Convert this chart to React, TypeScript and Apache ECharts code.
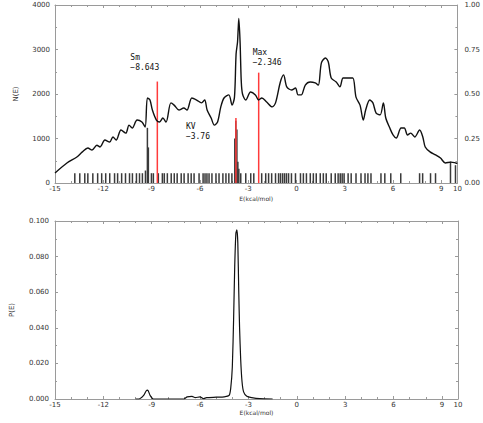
import React, { useEffect, useRef } from "react";
import * as echarts from "echarts";

// Top panel: smoothed energy-count curve (left axis)
const curveX = [-15, -14.26, -13.64, -13.3, -12.96, -12.7, -12.4, -12.2, -11.9, -11.6, -11.4, -11.2, -10.9, -10.6, -10.4, -10.2, -9.9, -9.6, -9.4, -9.26, -9.1, -8.95, -8.7, -8.5, -8.3, -8.1, -7.8, -7.6, -7.3, -7.0, -6.8, -6.5, -6.2, -5.9, -5.7, -5.55, -5.3, -5.1, -4.9, -4.7, -4.5, -4.2, -4.0, -3.85, -3.75, -3.66, -3.58, -3.5, -3.43, -3.35, -3.15, -2.85, -2.55, -2.35, -2.15, -1.85, -1.5, -1.3, -1.0, -0.8, -0.6, -0.3, -0.06, 0.1, 0.3, 0.55, 0.85, 1.17, 1.36, 1.55, 1.8, 1.98, 2.16, 2.47, 2.7, 2.9, 3.2, 3.5, 3.7, 3.95, 4.15, 4.3, 4.55, 4.75, 4.95, 5.2, 5.4, 5.55, 5.8, 6.0, 6.2, 6.5, 6.7, 6.9, 7.1, 7.35, 7.65, 7.85, 8.0, 8.3, 8.65, 8.95, 9.25, 9.6, 9.9, 10];
const curveY = [225, 450, 585, 700, 785, 740, 850, 810, 965, 920, 1035, 965, 1190, 1120, 1300, 1235, 1415, 1370, 1260, 1910, 1865, 1640, 1415, 1370, 1460, 1370, 1800, 1750, 1640, 1685, 1640, 1910, 1865, 1800, 1865, 1640, 1460, 1300, 1370, 1710, 1910, 1980, 1750, 1930, 2900, 3170, 3700, 3150, 2300, 2000, 1865, 2045, 1980, 1865, 1910, 1820, 1710, 1800, 2270, 2430, 2160, 2090, 2135, 1980, 1980, 2200, 2270, 2250, 2200, 2700, 2810, 2720, 2360, 2270, 2160, 2360, 2360, 2360, 1930, 1750, 1415, 1640, 1865, 1800, 1570, 1530, 1800, 1460, 1235, 1080, 1010, 1235, 1235, 1080, 1120, 1035, 1190, 1035, 810, 700, 630, 560, 450, 470, 450, 440];

// Top panel: rug sticks (right axis)
const rugX = [-13.77, -13.46, -13.15, -12.96, -12.65, -12.35, -12.1, -11.85, -11.6, -11.3, -11.11, -10.86, -10.62, -10.37, -10.19, -9.94, -9.75, -9.57, -9.38, -9.26, -9.2, -9.01, -8.89, -8.58, -8.33, -8.21, -8.02, -7.78, -7.59, -7.41, -7.16, -6.98, -6.73, -6.54, -6.36, -6.05, -5.8, -5.68, -5.56, -5.43, -5.25, -5.0, -4.81, -4.57, -4.38, -4.2, -4.01, -3.83, -3.77, -3.7, -3.64, -3.58, -3.46, -3.15, -2.84, -2.65, -2.16, -1.91, -1.73, -1.54, -1.3, -1.11, -0.99, -0.86, -0.74, -0.62, -0.49, -0.31, -0.06, 0.25, 0.43, 0.62, 0.86, 1.05, 1.23, 1.48, 1.67, 1.85, 2.16, 2.41, 2.59, 2.72, 2.84, 2.96, 3.21, 3.4, 3.7, 4.01, 4.26, 4.44, 4.63, 5.25, 5.49, 5.86, 6.48, 7.65, 7.84, 8.33, 8.64, 9.57, 9.88];
const rugH = [0.055, 0.055, 0.055, 0.055, 0.055, 0.055, 0.055, 0.055, 0.055, 0.055, 0.055, 0.055, 0.055, 0.055, 0.055, 0.055, 0.055, 0.055, 0.07, 0.31, 0.2, 0.055, 0.055, 0.055, 0.055, 0.055, 0.055, 0.055, 0.055, 0.055, 0.055, 0.055, 0.055, 0.055, 0.055, 0.055, 0.055, 0.055, 0.055, 0.055, 0.055, 0.055, 0.055, 0.055, 0.055, 0.055, 0.055, 0.25, 0.35, 0.3, 0.12, 0.08, 0.055, 0.055, 0.055, 0.055, 0.055, 0.055, 0.055, 0.055, 0.055, 0.055, 0.055, 0.055, 0.055, 0.055, 0.055, 0.055, 0.055, 0.055, 0.055, 0.055, 0.055, 0.055, 0.055, 0.055, 0.055, 0.055, 0.055, 0.055, 0.055, 0.055, 0.055, 0.055, 0.055, 0.055, 0.055, 0.055, 0.055, 0.055, 0.055, 0.055, 0.055, 0.055, 0.055, 0.055, 0.055, 0.055, 0.055, 0.12, 0.1];

// Top panel: marker lines
const markerNames = ["Sm", "KV", "Max"];
const markerX = [-8.643, -3.76, -2.346];
const markerH = [0.57, 0.365, 0.62];

// Bottom panel: probability curve
const probX = [-10, -9.8, -9.5, -9.35, -9.25, -9.1, -8.9, -7.0, -6.8, -6.5, -6.3, -6.0, -5.8, -5.6, -5.0, -4.5, -4.2, -4.1, -4.0, -3.92, -3.85, -3.78, -3.72, -3.66, -3.6, -3.55, -3.48, -3.4, -3.3, -3.1, -2.8, -2.3, -1.5];
const probY = [0, 0, 0.002, 0.0045, 0.005, 0.002, 0, 0, 0.0012, 0.0015, 0.0008, 0.0012, 0.0002, 0.0008, 0.001, 0.0012, 0.002, 0.006, 0.018, 0.045, 0.075, 0.093, 0.095, 0.088, 0.06, 0.04, 0.022, 0.01, 0.004, 0.0015, 0.0008, 0.0002, 0];

const xMin = -15;
const xMax = 10;
const xStep = 3;

export default function App() {
  const ref = useRef<HTMLDivElement>(null);

  useEffect(() => {
    document.body.style.margin = "0";
    const chart = echarts.init(ref.current!, null, { renderer: "svg" });

    const axisColor = "#9a9a9a";
    const labelStyle = { fontSize: 7, color: "#333", fontFamily: "DejaVu Sans" };
    const tickCfg = { show: true, inside: true, length: 3, lineStyle: { color: axisColor } };
    const minorCfg = (n: number) => ({ show: true, splitNumber: n, length: 2, lineStyle: { color: axisColor } });
    const lineCfg = { show: true, onZero: false, lineStyle: { color: axisColor, width: 1 } };

    const baseX = (gridIndex: number, position: "top" | "bottom", showLabel: boolean, name: string, nameGap: number) => ({
      type: "value",
      gridIndex,
      position,
      min: xMin,
      max: xMax,
      interval: xStep,
      axisLine: lineCfg,
      axisTick: tickCfg,
      minorTick: minorCfg(3),
      splitLine: { show: false },
      axisLabel: { show: showLabel, margin: 2, ...labelStyle },
      name,
      nameLocation: "middle",
      nameGap,
      nameTextStyle: { fontSize: 6, color: "#333", fontFamily: "DejaVu Sans" },
    });

    const labelOffsets: Record<string, number[]> = {
      Sm: [-27, -9],
      KV: [-50, 23],
      Max: [-6, -5],
    };

    chart.setOption({
      animation: false,
      backgroundColor: "#fff",
      grid: [
        { left: 55, right: 23, top: 5, height: 178 },
        { left: 55, right: 25, top: 221, height: 178 },
      ],
      xAxis: [
        baseX(0, "bottom", true, "E(kcal/mol)", 12),
        baseX(0, "top", false, "", 0),
        baseX(1, "bottom", true, "E(kcal/mol)", 10),
        baseX(1, "top", false, "", 0),
      ],
      yAxis: [
        {
          type: "value", gridIndex: 0, position: "left", min: 0, max: 4000, interval: 1000,
          axisLine: lineCfg, axisTick: tickCfg, minorTick: minorCfg(2), splitLine: { show: false },
          axisLabel: { margin: 5, formatter: (v: number) => String(v), ...labelStyle },
          name: "N(E)", nameLocation: "middle", nameGap: 36,
          nameTextStyle: { fontSize: 7, color: "#333", fontFamily: "DejaVu Sans" },
        },
        {
          type: "value", gridIndex: 0, position: "right", min: 0, max: 1, interval: 0.25,
          axisLine: lineCfg, axisTick: tickCfg, minorTick: minorCfg(2), splitLine: { show: false },
          axisLabel: { margin: 7, formatter: (v: number) => v.toFixed(2), ...labelStyle },
        },
        {
          type: "value", gridIndex: 1, position: "left", min: 0, max: 0.1, interval: 0.02,
          axisLine: lineCfg, axisTick: tickCfg, minorTick: minorCfg(2), splitLine: { show: false },
          axisLabel: { margin: 6, formatter: (v: number) => v.toFixed(3), ...labelStyle },
          name: "P(E)", nameLocation: "middle", nameGap: 40,
          nameTextStyle: { fontSize: 7, color: "#333", fontFamily: "DejaVu Sans" },
        },
        {
          type: "value", gridIndex: 1, position: "right", min: 0, max: 0.1, interval: 0.02,
          axisLine: lineCfg, axisTick: tickCfg, minorTick: minorCfg(2), splitLine: { show: false },
          axisLabel: { show: false },
        },
      ],
      series: [
        {
          type: "bar",
          xAxisIndex: 0,
          yAxisIndex: 1,
          barWidth: 1.5,
          itemStyle: { color: "#3a3a3a" },
          data: rugX.map((x, i) => [x, rugH[i]]),
          silent: true,
        },
        {
          type: "bar",
          xAxisIndex: 1,
          yAxisIndex: 1,
          barWidth: 1.5,
          itemStyle: { color: "#ff3b3b" },
          data: markerX.map((x, i) => ({
            value: [x, markerH[i]],
            name: markerNames[i],
            label: {
              show: true,
              position: "top",
              distance: 0,
              align: "left",
              offset: labelOffsets[markerNames[i]],
              formatter: () => `${markerNames[i]}\n${markerX[i] < 0 ? "\u2212" : ""}${Math.abs(markerX[i])}`,
              fontSize: 8,
              lineHeight: 10,
              color: "#111",
              fontFamily: "DejaVu Sans Mono",
            },
          })),
          silent: true,
        },
        {
          type: "line",
          xAxisIndex: 0,
          yAxisIndex: 0,
          showSymbol: false,
          smooth: 0.3,
          lineStyle: { color: "#111", width: 1.4 },
          data: curveX.map((x, i) => [x, curveY[i]]),
          silent: true,
        },
        {
          type: "line",
          xAxisIndex: 2,
          yAxisIndex: 2,
          showSymbol: false,
          smooth: 0.2,
          lineStyle: { color: "#111", width: 1.2 },
          data: probX.map((x, i) => [x, probY[i]]),
          silent: true,
        },
      ],
    });

    return () => chart.dispose();
  }, []);

  return <div ref={ref} style={{ width: 483, height: 423 }} />;
}
